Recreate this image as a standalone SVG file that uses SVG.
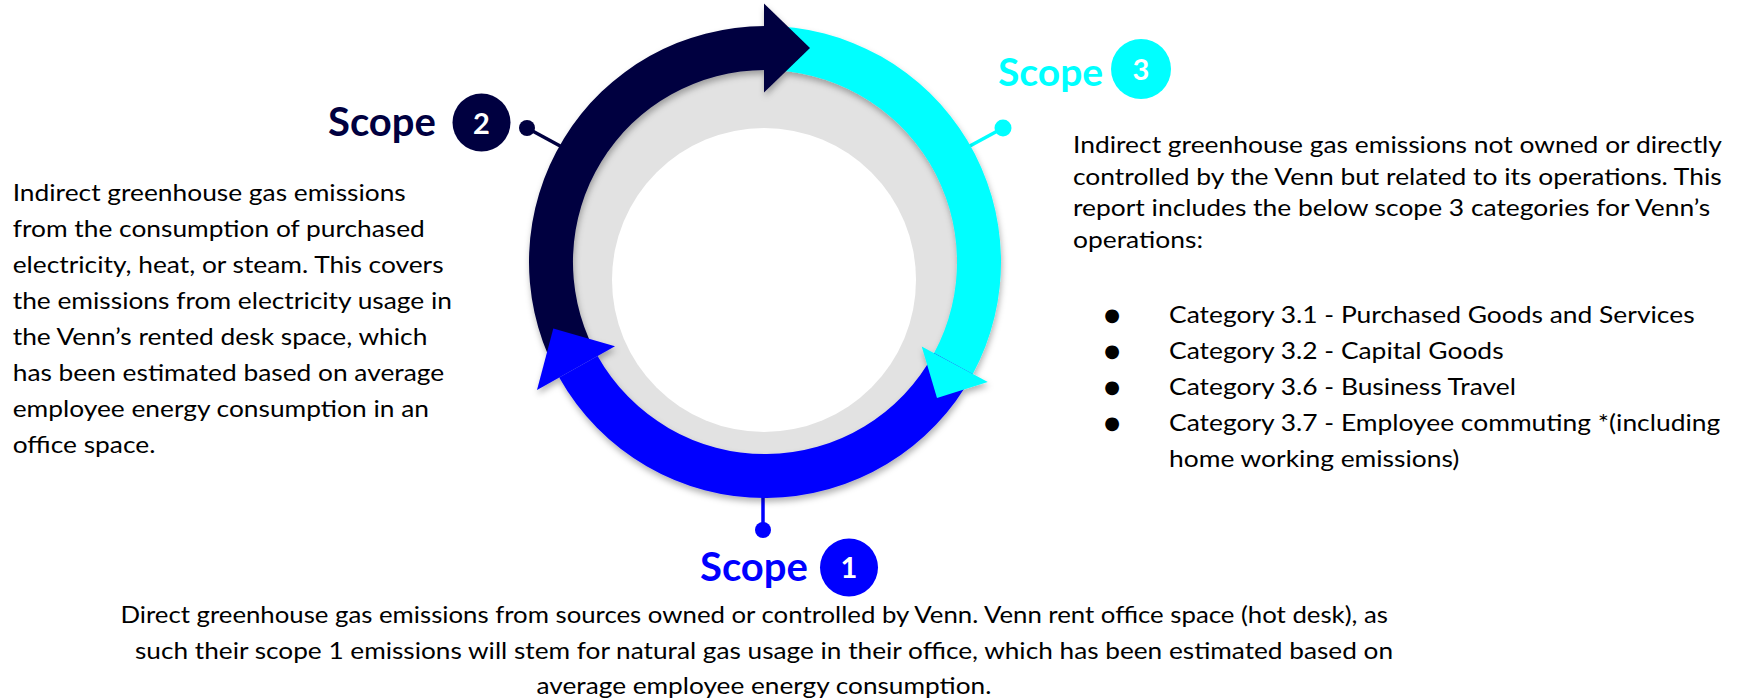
<svg xmlns="http://www.w3.org/2000/svg" width="1743" height="699" viewBox="0 0 1743 699">
<style>
.lbl{font-family:Lato,"Open Sans","Liberation Sans",sans-serif;font-weight:700;font-size:40px}
.num{font-family:Lato,"Open Sans","Liberation Sans",sans-serif;font-weight:700;font-size:29px;fill:#fff;text-anchor:middle}
.body{font-family:Lato,"Open Sans","Liberation Sans",sans-serif;font-size:24px;fill:#000}
.bul{font-family:"DejaVu Sans",sans-serif;font-size:18px;fill:#000;text-anchor:middle}
.mid{text-anchor:middle}
.navy{fill:#000040}
.blue{fill:#0000ff}
.cyan{fill:#00ffff}
</style>
<defs>
<filter id="sh" x="-10%" y="-10%" width="120%" height="125%">
<feDropShadow dx="1" dy="4" stdDeviation="3" flood-color="#000" flood-opacity="0.3"/>
</filter>
</defs>
<rect width="1743" height="699" fill="#fff"/>

<g id="connectors">
<line x1="527" y1="128" x2="562" y2="147" stroke="#000040" stroke-width="3.5"/>
<circle cx="527" cy="128" r="8" class="navy"/>
<line x1="1003" y1="128" x2="968" y2="147" stroke="#00ffff" stroke-width="3.5"/>
<circle cx="1003" cy="128" r="8.5" class="cyan"/>
<line x1="763" y1="494" x2="763" y2="530" stroke="#0000ff" stroke-width="3.5"/>
<circle cx="763" cy="530" r="8" class="blue"/>
</g>

<g id="cycle">
<circle cx="765" cy="262" r="200" fill="#e2e2e2"/>
<circle cx="764" cy="280" r="152" fill="#fff"/>
<g filter="url(#sh)">
<path class="navy" d="M554.7 369.1 A236 236 0 0 1 765 26 L765 70 A192 192 0 0 0 593.9 349.2 Z"/>
<path class="cyan" d="M764 26 A236 236 0 0 1 972.8 373.9 L934.1 353 A192 192 0 0 0 764 70 Z"/>
<path class="blue" d="M972.8 373.9 A236 236 0 0 1 559.2 377.5 L597.6 356 A192 192 0 0 0 934.1 353 Z"/>
<polygon class="navy" points="764,3.5 810,48 764,92.5"/>
<polygon class="cyan" points="921.7,346.4 987.8,381.9 937,398"/>
<polygon class="blue" points="615,346.2 537,389.9 553.3,328.6"/>
</g>
</g>

<g id="scope2">
<text class="lbl navy" x="328" y="136">Scope</text>
<circle cx="481.5" cy="122.5" r="29" class="navy"/>
<text class="num" x="481.5" y="133.5">2</text>
<g transform="translate(12.7 0) scale(1.097 1)">
<text class="body" x="0" y="200.7">Indirect greenhouse gas emissions</text>
<text class="body" x="0" y="236.7">from the consumption of purchased</text>
<text class="body" x="0" y="272.7">electricity, heat, or steam. This covers</text>
<text class="body" x="0" y="308.7">the emissions from electricity usage in</text>
<text class="body" x="0" y="344.7">the Venn’s rented desk space, which</text>
<text class="body" x="0" y="380.7">has been estimated based on average</text>
<text class="body" x="0" y="416.7">employee energy consumption in an</text>
<text class="body" x="0" y="452.7">office space.</text>
</g>
</g>

<g id="scope3">
<text class="lbl cyan" x="998" y="85.5" style="font-size:39px">Scope</text>
<circle cx="1141" cy="69" r="30" class="cyan"/>
<text class="num" x="1141" y="80">3</text>
<g transform="translate(1073 0) scale(1.1 1)">
<text class="body" x="0" y="153.5">Indirect greenhouse gas emissions not owned or directly</text>
<text class="body" x="0" y="185">controlled by the Venn but related to its operations. This</text>
<text class="body" x="0" y="216.5">report includes the below scope 3 categories for Venn’s</text>
<text class="body" x="0" y="248">operations:</text>
<text class="body" x="87.3" y="323">Category 3.1 - Purchased Goods and Services</text>
<text class="body" x="87.3" y="359">Category 3.2 - Capital Goods</text>
<text class="body" x="87.3" y="395">Category 3.6 - Business Travel</text>
<text class="body" x="87.3" y="431">Category 3.7 - Employee commuting *(including</text>
<text class="body" x="87.3" y="467">home working emissions)</text>
</g>
<text class="bul" x="1112" y="321">●</text>
<text class="bul" x="1112" y="357">●</text>
<text class="bul" x="1112" y="393">●</text>
<text class="bul" x="1112" y="429">●</text>
</g>

<g id="scope1">
<text class="lbl blue" x="700" y="580.5">Scope</text>
<circle cx="849" cy="567.5" r="29" class="blue"/>
<text class="num" x="849" y="578">1</text>
<g transform="translate(754.2 0) scale(1.074 1)">
<text class="body mid" x="0" y="623.5">Direct greenhouse gas emissions from sources owned or controlled by Venn. Venn rent office space (hot desk), as</text>
</g>
<g transform="translate(764 0) scale(1.093 1)">
<text class="body mid" x="0" y="659">such their scope 1 emissions will stem for natural gas usage in their office, which has been estimated based on</text>
<text class="body mid" x="0" y="694.5">average employee energy consumption.</text>
</g>
</g>
</svg>
